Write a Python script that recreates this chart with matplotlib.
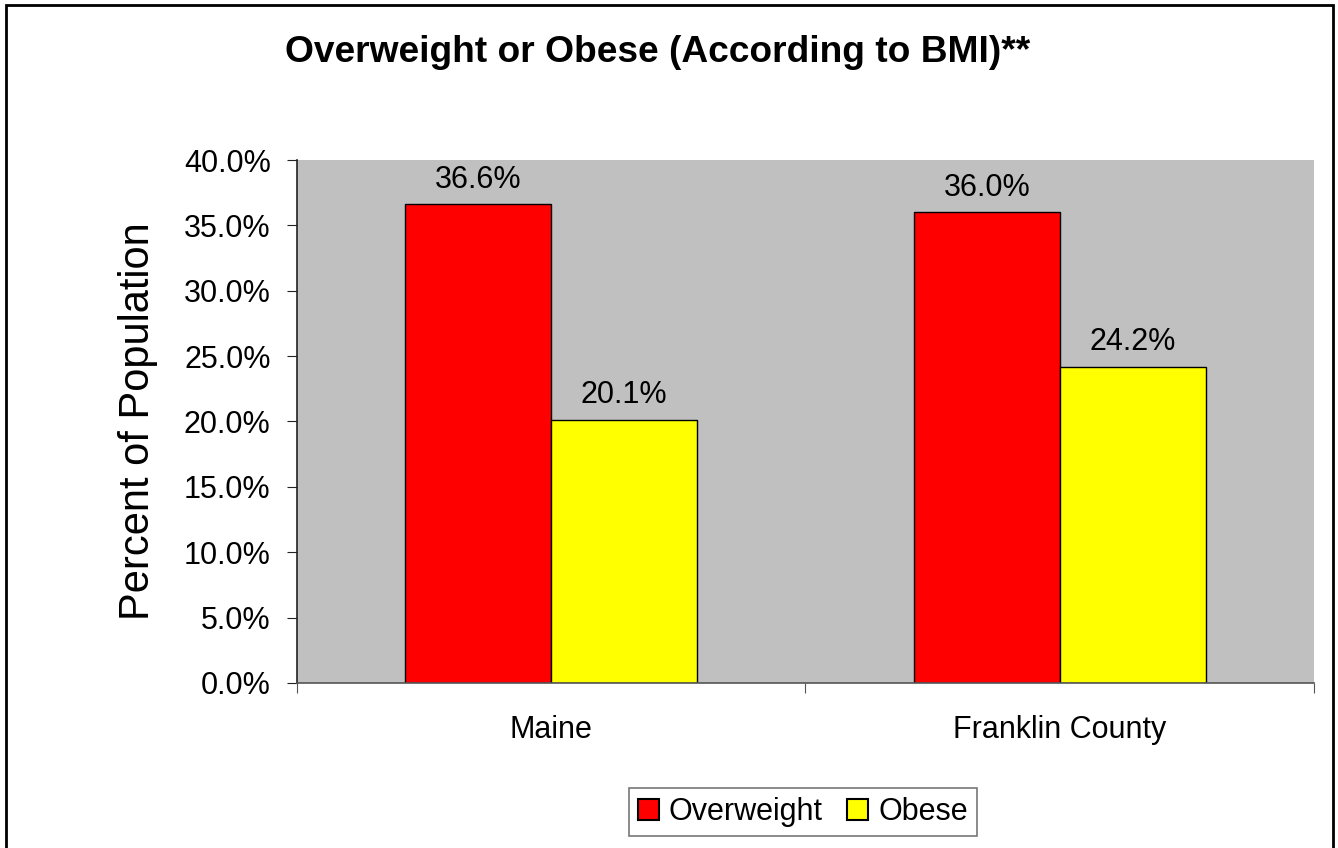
import numpy as np
import matplotlib.pyplot as plt
from matplotlib.patches import Rectangle

plt.rcParams['font.family'] = ['Liberation Sans', 'DejaVu Sans']

categories = ['Maine', 'Franklin County']
overweight = [36.6, 36.0]
obese = [20.1, 24.2]
series_names = ['Overweight', 'Obese']
yticks = [0, 5, 10, 15, 20, 25, 30, 35, 40]

fig = plt.figure(figsize=(13.38, 8.48), dpi=100)
ax = fig.add_axes([0.222, 0.1946, 0.76, 0.6167])
ax.set_facecolor('#C0C0C0')

x = np.arange(len(categories))
w = 0.287
b1 = ax.bar(x - w/2, overweight, w, color='#FF0000', edgecolor='black', linewidth=1, label=series_names[0])
b2 = ax.bar(x + w/2, obese, w, color='#FFFF00', edgecolor='black', linewidth=1, label=series_names[1])

for bars, vals in ((b1, overweight), (b2, obese)):
    for r, v in zip(bars, vals):
        ax.text(r.get_x() + r.get_width()/2, v + 0.75, '%.1f%%' % v,
                ha='center', va='bottom', fontsize=22)

ax.set_xlim(-0.5, 1.5)
ax.set_ylim(0, 40)
ax.set_yticks(yticks)
ax.set_yticklabels(['%.1f%%' % t for t in yticks], fontsize=22)
ax.set_xticks([-0.5, 0.5, 1.5])
ax.set_xticklabels([])
ax.set_xticks(x, minor=True)
ax.set_xticklabels(categories, minor=True, fontsize=22)
ax.tick_params(axis='x', which='minor', length=0, pad=23)
ax.tick_params(axis='x', which='major', length=7, color='#555555')
ax.tick_params(axis='y', length=7, color='#222222', pad=12)
for s in ('top', 'right'):
    ax.spines[s].set_visible(False)
ax.spines['left'].set_color('#222222')
ax.spines['bottom'].set_color('#555555')
for s in ('left', 'bottom'):
    ax.spines[s].set_linewidth(1.2)

ax.set_ylabel('Percent of Population', fontsize=30)
ax.yaxis.set_label_coords(-0.137, 0.5)
fig.text(658/1338, 1 - 52/848, 'Overweight or Obese (According to BMI)**', ha='center', va='center',
         fontsize=26.7, fontweight='bold')

leg = ax.legend(loc='center', bbox_to_anchor=(803/1338, 1 - 812/848), bbox_transform=fig.transFigure,
                ncol=2, fontsize=22, frameon=True, fancybox=False, edgecolor='#555555',
                handlelength=0.68, handleheight=0.68, handletextpad=0.33, columnspacing=0.8,
                borderpad=0.3, borderaxespad=0)
leg.get_frame().set_linewidth(1.2)
for h in leg.legend_handles:
    h.set_linewidth(1.5)

fig.patches.append(Rectangle((6/1338, -0.1), 1327/1338, 1.1 - 5/848, transform=fig.transFigure,
                             fill=False, edgecolor='black', linewidth=2))

fig.savefig('out.png', dpi=100)
